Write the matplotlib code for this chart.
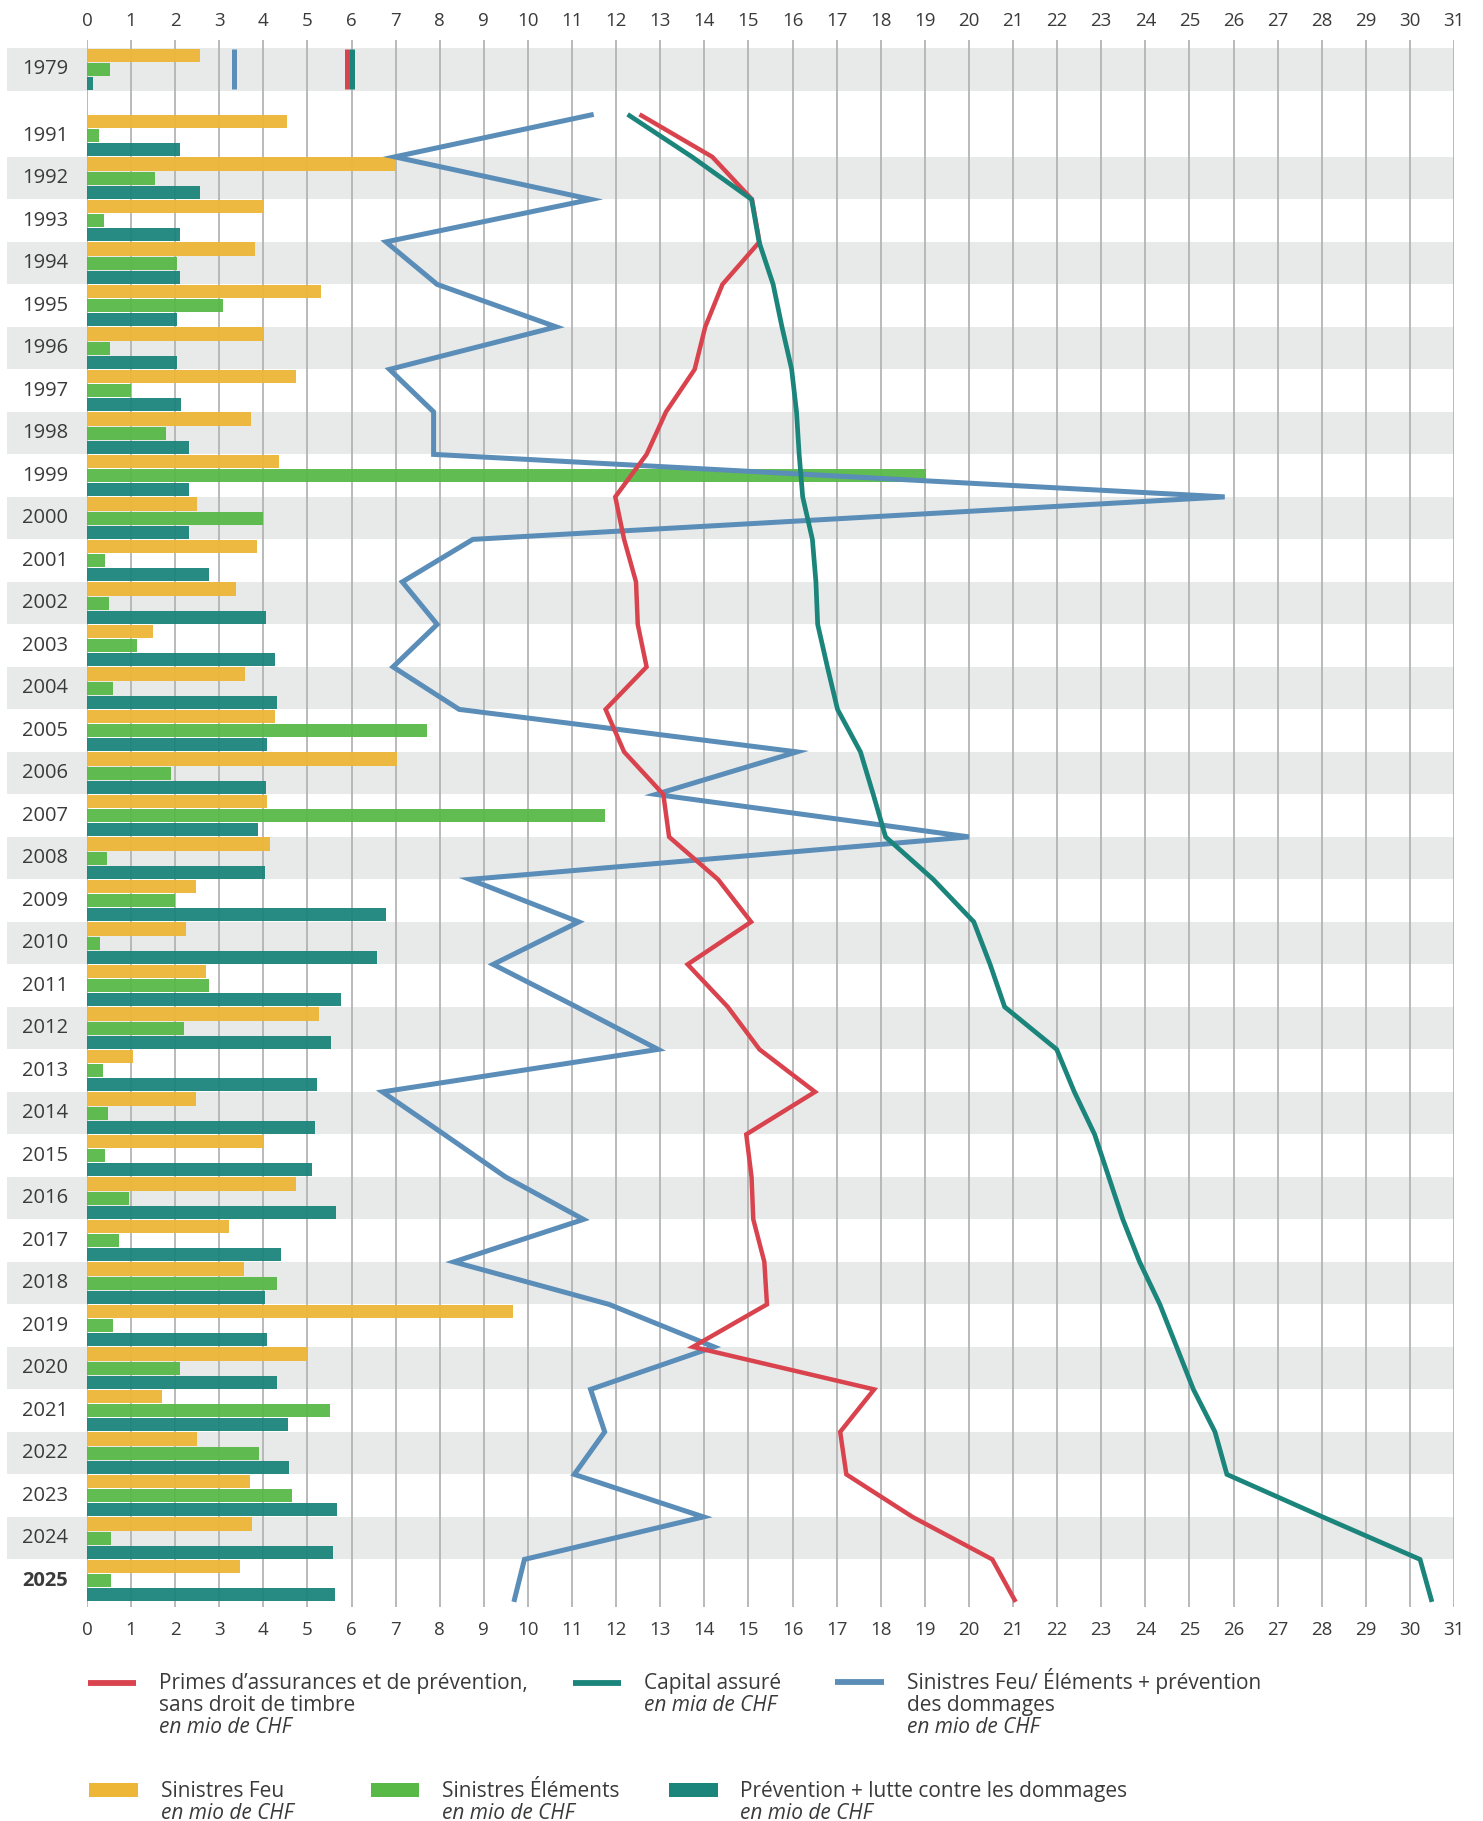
import numpy as np
import matplotlib
matplotlib.use("Agg")
import matplotlib.pyplot as plt
from matplotlib.patches import Rectangle
from matplotlib.lines import Line2D
import matplotlib.transforms as mtransforms

plt.rcParams['font.family'] = ['Open Sans', 'DejaVu Sans']

# ---------------- data ----------------
years = ["1979"] + [str(y) for y in range(1991, 2026)]

# bars (mio CHF)
sinistres_feu = [2.56, 4.53, 6.98, 4.00, 3.81, 5.31, 4.01, 4.74, 3.72, 4.35,
                 2.50, 3.85, 3.37, 1.50, 3.58, 4.27, 7.04, 4.09, 4.16, 2.48,
                 2.24, 2.69, 5.27, 1.05, 2.48, 4.01, 4.74, 3.22, 3.56, 9.65,
                 5.01, 1.69, 2.50, 3.70, 3.74, 3.47]
sinistres_elements = [0.52, 0.28, 1.54, 0.39, 2.03, 3.08, 0.53, 1.00, 1.79, 19.03,
                      3.98, 0.40, 0.50, 1.13, 0.58, 7.72, 1.90, 11.75, 0.45, 2.00,
                      0.30, 2.77, 2.19, 0.37, 0.48, 0.40, 0.95, 0.72, 4.30, 0.58,
                      2.11, 5.51, 3.90, 4.65, 0.54, 0.55]
prevention = [0.13, 2.10, 2.56, 2.10, 2.10, 2.05, 2.03, 2.13, 2.32, 2.32,
              2.32, 2.77, 4.06, 4.27, 4.30, 4.09, 4.06, 3.87, 4.03, 6.78,
              6.58, 5.77, 5.53, 5.22, 5.17, 5.11, 5.64, 4.40, 4.03, 4.09,
              4.30, 4.56, 4.58, 5.66, 5.58, 5.62]

# lines: 1979 single values, then values at the row boundaries from 1991 (top) to 2025 (bottom)
total_1979 = 3.34
primes_1979 = 5.89
capital_1979 = 6.02
sinistres_total = [11.49, 6.98, 11.43, 6.78, 7.94, 10.64, 6.86, 7.86, 7.86, 25.80,
                   8.75, 7.15, 7.94, 6.94, 8.44, 16.10, 12.90, 20.00, 8.68, 11.15,
                   9.21, 11.10, 12.95, 6.70, 8.10, 9.49, 11.26, 8.32, 11.84, 14.22,
                   11.42, 11.74, 11.05, 13.98, 9.92, 9.68]
primes = [12.53, 14.18, 15.08, 15.25, 14.41, 14.02, 13.78, 13.13, 12.69, 11.98,
          12.18, 12.45, 12.49, 12.69, 11.76, 12.18, 13.07, 13.20, 14.31, 15.06,
          13.62, 14.53, 15.25, 16.51, 14.95, 15.07, 15.11, 15.36, 15.42, 13.74,
          17.85, 17.08, 17.22, 18.72, 20.53, 21.06]
capital = [12.26, 13.72, 15.07, 15.24, 15.56, 15.76, 15.98, 16.09, 16.15, 16.23,
           16.45, 16.53, 16.57, 16.79, 17.02, 17.54, 17.83, 18.11, 19.19, 20.11,
           20.48, 20.81, 21.99, 22.39, 22.85, 23.17, 23.49, 23.87, 24.33, 24.71,
           25.09, 25.58, 25.85, 28.02, 30.23, 30.50]
x_ticks = list(range(0, 32))

# ---------------- style ----------------
C_FEU = '#EEB637'
C_ELEM = '#58B947'
C_PREV = '#1B857C'
C_BLUE = '#5A8DB8'
C_RED = '#D9434E'
C_TEAL = '#1B857C'
C_BAND = '#E8EAE9'
C_GRID = '#AEAEAE'
C_TEXT = '#3A3A3A'

W, H = 1483, 1821
fig = plt.figure(figsize=(W / 100, H / 100), dpi=100)
ax = fig.add_axes([87 / W, 1 - 1607 / H, (1454 - 87) / W, (1607 - 40) / H])
ax.set_xlim(0, 31)
ax.set_ylim(34.62, -2.25)
for s in ax.spines.values():
    s.set_visible(False)

row_pos = np.concatenate([[-1.56], np.arange(len(years) - 1)])

# alternating bands
for yr, p in zip(years, row_pos):
    if int(yr) % 2 == 0 or yr == "1979":
        ax.add_patch(Rectangle((-1.81, p - 0.5), 32.81, 1.0, facecolor=C_BAND,
                               edgecolor='none', clip_on=False, zorder=0))

# grid
ax.vlines(x_ticks, 34.62, -2.25, color=C_GRID, lw=1.2, zorder=1)

# bars
bh = 0.31
ax.barh(row_pos - 1 / 3, sinistres_feu, height=bh, color=C_FEU, alpha=0.95, zorder=2)
ax.barh(row_pos, sinistres_elements, height=bh, color=C_ELEM, alpha=0.95, zorder=2)
ax.barh(row_pos + 1 / 3, prevention, height=bh, color=C_PREV, alpha=0.95, zorder=2)

# 1979 markers
for v, c in [(total_1979, C_BLUE), (primes_1979, C_RED), (capital_1979, C_TEAL)]:
    ax.plot([v, v], [row_pos[0] - 0.47, row_pos[0] + 0.47], color=c, lw=3.6,
            solid_capstyle='butt', zorder=4)

# lines
bnd = np.arange(len(sinistres_total)) - 0.5
ax.plot(sinistres_total, bnd, color=C_BLUE, lw=3.6, solid_joinstyle='miter',
        solid_capstyle='butt', zorder=4)
ax.plot(primes, bnd, color=C_RED, lw=3.2, solid_joinstyle='miter',
        solid_capstyle='butt', zorder=5)
ax.plot(capital, bnd, color=C_TEAL, lw=3.4, solid_joinstyle='miter',
        solid_capstyle='butt', zorder=5)

# ticks
ax.set_yticks([])
ax.set_xticks(x_ticks)
ax.tick_params(axis='x', length=0, pad=10, labelsize=13.5, labelcolor=C_TEXT)
sec = ax.secondary_xaxis('top')
sec.set_xticks(x_ticks)
sec.tick_params(axis='x', length=0, pad=7, labelsize=13.5, labelcolor=C_TEXT)
for s in sec.spines.values():
    s.set_visible(False)

# year labels
tr = mtransforms.blended_transform_factory(fig.transFigure, ax.transData)
for yr, p in zip(years, row_pos):
    ax.text(45 / W, p, yr, transform=tr, ha='center', va='center',
            fontsize=14.5, color=C_TEXT,
            fontweight='bold' if yr == "2025" else 'normal')

# ---------------- legend ----------------
def fx(x):
    return x / W

def fy(y):
    return 1 - y / H

FS = 15

def add_text(x, y, s, italic=False):
    fig.text(fx(x), fy(y), s, ha='left', va='baseline', fontsize=FS, color=C_TEXT,
             style='italic' if italic else 'normal')

def add_line(x0, x1, y, c):
    fig.add_artist(Line2D([fx(x0), fx(x1)], [fy(y), fy(y)], transform=fig.transFigure,
                          color=c, lw=4.2, solid_capstyle='butt'))

def add_patch(x0, x1, yc, c):
    fig.add_artist(Rectangle((fx(x0), fy(yc + 7)), fx(x1) - fx(x0), 14 / H,
                             transform=fig.transFigure, facecolor=c, edgecolor='none'))

add_line(88, 136, 1683, C_RED)
add_text(159, 1689, "Primes d\u2019assurances et de prévention,")
add_text(159, 1711, "sans droit de timbre")
add_text(159, 1733, "en mio de CHF", italic=True)

add_line(573, 621, 1683, C_TEAL)
add_text(644, 1689, "Capital assuré")
add_text(644, 1711, "en mia de CHF", italic=True)

add_line(835, 884, 1682, C_BLUE)
add_text(907, 1689, "Sinistres Feu/ Éléments + prévention")
add_text(907, 1711, "des dommages")
add_text(907, 1733, "en mio de CHF", italic=True)

add_patch(89, 138, 1790, C_FEU)
add_text(161, 1797, "Sinistres Feu")
add_text(161, 1819, "en mio de CHF", italic=True)

add_patch(371, 419, 1790, C_ELEM)
add_text(442, 1797, "Sinistres Éléments")
add_text(442, 1819, "en mio de CHF", italic=True)

add_patch(669, 718, 1790, C_PREV)
add_text(740, 1797, "Prévention + lutte contre les dommages")
add_text(740, 1819, "en mio de CHF", italic=True)

fig.savefig("out.png", dpi=100)
